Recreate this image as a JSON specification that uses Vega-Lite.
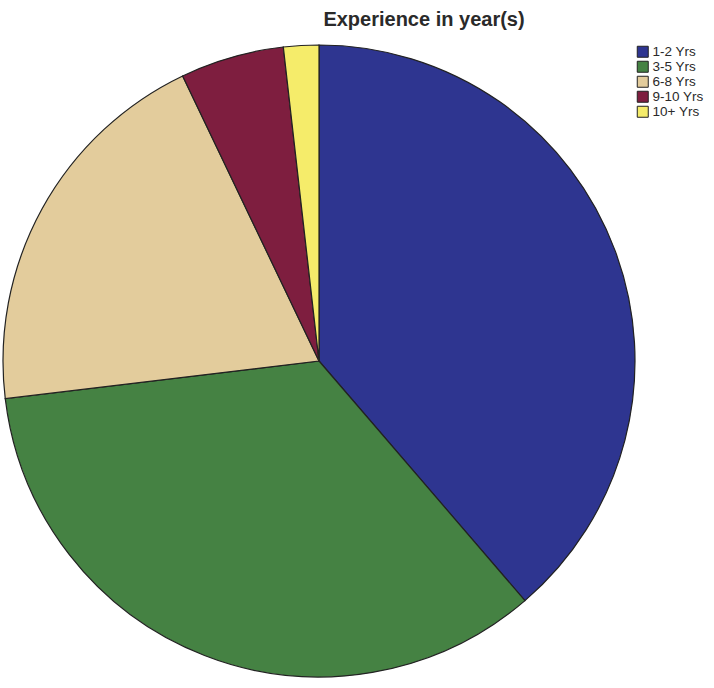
{
  "$schema": "https://vega.github.io/schema/vega-lite/v6.json",
  "autosize": "none",
  "width": 638,
  "height": 650,
  "padding": {"left": 0, "top": 36, "right": 76, "bottom": 0},
  "background": "white",
  "title": {
    "text": "Experience in year(s)",
    "font": "Liberation Sans",
    "fontSize": 20,
    "fontWeight": "bold",
    "color": "#2a2a2a",
    "anchor": "middle",
    "dx": 105,
    "offset": 6
  },
  "data": {
    "values": [
      {"group": "1-2 Yrs", "pct": 38.7, "ord": 1},
      {"group": "3-5 Yrs", "pct": 34.4, "ord": 2},
      {"group": "6-8 Yrs", "pct": 19.8, "ord": 3},
      {"group": "9-10 Yrs", "pct": 5.3, "ord": 4},
      {"group": "10+ Yrs", "pct": 1.8, "ord": 5}
    ]
  },
  "mark": {"type": "arc", "radius": 316, "stroke": "#222222", "strokeWidth": 1.2},
  "encoding": {
    "theta": {"field": "pct", "type": "quantitative", "stack": true},
    "order": {"field": "ord", "type": "quantitative"},
    "color": {
      "field": "group",
      "type": "nominal",
      "sort": ["1-2 Yrs", "3-5 Yrs", "6-8 Yrs", "9-10 Yrs", "10+ Yrs"],
      "scale": {
        "domain": ["1-2 Yrs", "3-5 Yrs", "6-8 Yrs", "9-10 Yrs", "10+ Yrs"],
        "range": ["#2E3590", "#458243", "#E3CC9C", "#7E1E3F", "#F5EC6A"]
      },
      "legend": {
        "title": null,
        "orient": "none",
        "legendX": 636,
        "legendY": 9,
        "symbolType": "square",
        "symbolSize": 121,
        "symbolStrokeColor": "#222222",
        "symbolStrokeWidth": 1,
        "symbolOpacity": 1,
        "labelFont": "Liberation Sans",
        "labelFontSize": 13.5,
        "labelColor": "#2a2a2a",
        "labelOffset": 3,
        "rowPadding": -2
      }
    }
  }
}
